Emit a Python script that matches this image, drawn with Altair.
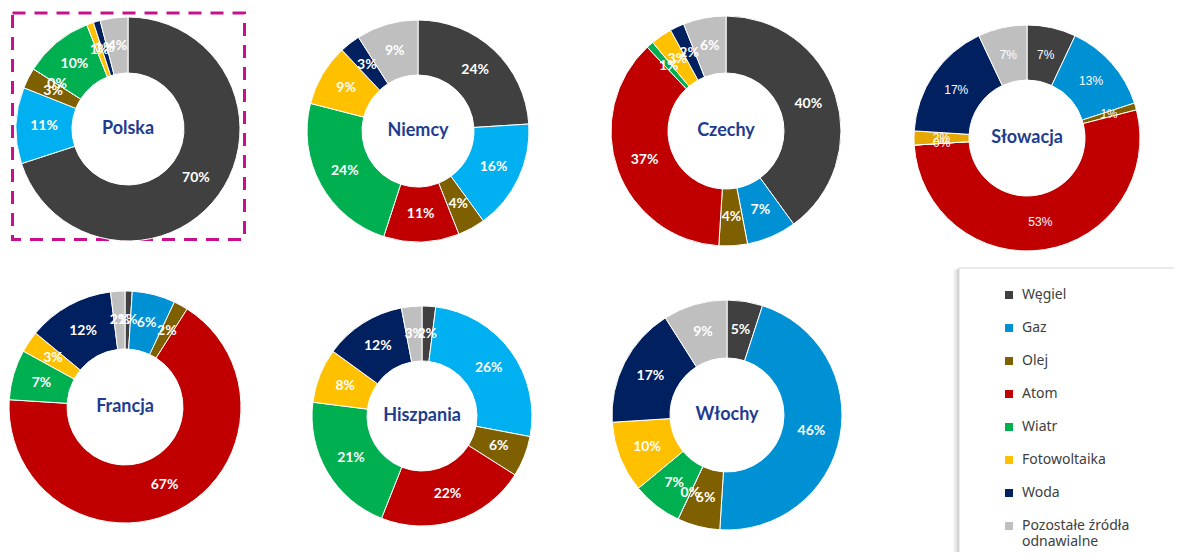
import altair as alt
import pandas as pd

# ---------------- data ----------------
countries = ["Polska", "Niemcy", "Czechy", "Słowacja", "Francja", "Hiszpania", "Włochy"]
sources = ["Węgiel", "Gaz", "Olej", "Atom", "Wiatr", "Fotowoltaika", "Woda",
           "Pozostałe źródła odnawialne"]
polska = [70, 11, 3, 0, 10, 1, 1, 4]
niemcy = [24, 16, 4, 11, 24, 9, 3, 9]
czechy = [40, 7, 4, 37, 1, 3, 2, 6]
slowacja = [7, 13, 1, 53, 0, 2, 17, 7]
francja = [1, 6, 2, 67, 7, 3, 12, 2]
hiszpania = [2, 26, 6, 22, 21, 8, 12, 3]
wlochy = [5, 46, 6, 0, 7, 10, 17, 9]
series = [polska, niemcy, czechy, slowacja, francja, hiszpania, wlochy]

# ---------------- styles ----------------
colors = ["#404040", "#0091D5", "#7F6000", "#C00000", "#00B050", "#FFC000", "#002060", "#BFBFBF"]
overrides = {("Polska", "Gaz"): "#00B0F0", ("Niemcy", "Gaz"): "#00B0F0",
             ("Hiszpania", "Gaz"): "#00B0F0", ("Słowacja", "Fotowoltaika"): "#E6A800"}

# layout: donut centre (x, y), outer radius, inner radius (pixels inside the view)
layout = {
    "Polska": (120, 121, 112, 56),
    "Niemcy": (410, 123, 111, 56),
    "Czechy": (718, 123, 115, 58),
    "Słowacja": (1019, 130, 113, 58),
    "Francja": (117, 399, 116, 58),
    "Hiszpania": (414, 408, 110, 55),
    "Włochy": (719, 407, 115, 57),
}

rows = []
for c, vals in zip(countries, series):
    for i, (s, v) in enumerate(zip(sources, vals)):
        key = s + "|" + c if (c, s) in overrides else s
        rows.append({"country": c, "source": s, "idx": i, "value": v, "ckey": key})
df = pd.DataFrame(rows)

dom = list(sources) + [s + "|" + c for (c, s) in overrides]
rng = list(colors) + [overrides[k] for k in overrides]
color = alt.Color("ckey:N", scale=alt.Scale(domain=dom, range=rng),
                  legend=alt.Legend(title=None, values=sources,
                                    labelExpr="datum.label == 'Pozostałe źródła odnawialne' ? ['Pozostałe źródła', 'odnawialne'] : datum.label"))

dummy = pd.DataFrame({"k": [0]})
layers = []

# legend box with soft shadow
for off, op in [(6, 0.04), (4, 0.06), (2, 0.08)]:
    layers.append(alt.Chart(dummy).mark_rect(fill="black", opacity=op).encode(
        x=alt.value(951 - off), x2=alt.value(1240), y=alt.value(260 + off * 0.3), y2=alt.value(620)))
layers.append(alt.Chart(dummy).mark_rect(fill="white", stroke="#D6D6D6", strokeWidth=1).encode(
    x=alt.value(951), x2=alt.value(1240), y=alt.value(260), y2=alt.value(620)))

# dashed frame around Polska
layers.append(alt.Chart(dummy).mark_rect(fill=None, stroke="#C8108C", strokeWidth=3,
                                         strokeDash=[13, 9]).encode(
    x=alt.value(4.5), x2=alt.value(236.5), y=alt.value(5), y2=alt.value(231.5)))

for c in countries:
    cx, cy, R, r = layout[c]
    base = alt.Chart(df).transform_filter(alt.datum.country == c)
    theta = alt.Theta("value:Q", stack=True)
    order = alt.Order("idx:Q")
    layers.append(base.mark_arc(outerRadius=R, innerRadius=r, stroke="white", strokeWidth=1).encode(
        theta=theta, order=order, color=color, x=alt.value(cx), y=alt.value(cy)))
    if c == "Słowacja":
        tstyle = dict(font="Liberation Sans", fontSize=12, fontWeight="normal")
    else:
        tstyle = dict(font="Lato", fontSize=14, fontWeight="bold")
    layers.append(base.transform_calculate(lab="datum.value + '%'").mark_text(
        radius=(R + r) / 2, color="white", align="center", baseline="middle", **tstyle).encode(
        theta=theta, order=order, text="lab:N", x=alt.value(cx), y=alt.value(cy)))
    layers.append(base.transform_filter(alt.datum.idx == 0).mark_text(
        font="Lato", fontSize=18, fontWeight="bold", color="#1F3C8F",
        align="center", baseline="middle").encode(
        text="country:N", x=alt.value(cx), y=alt.value(cy)))

chart = alt.layer(*layers).properties(
    width=1166, height=544, padding=0,
    autosize=alt.AutoSizeParams(type="none"),
).configure_view(stroke=None).configure_legend(
    orient="none", legendX=994, legendY=280, symbolType="square", symbolSize=64,
    labelFont="Noto Sans", labelFontSize=14, labelColor="#404040",
    rowPadding=19, labelOffset=6, padding=0, symbolStrokeWidth=0,
)

chart.save("out.html", embed_options={"renderer": "svg", "actions": False})
